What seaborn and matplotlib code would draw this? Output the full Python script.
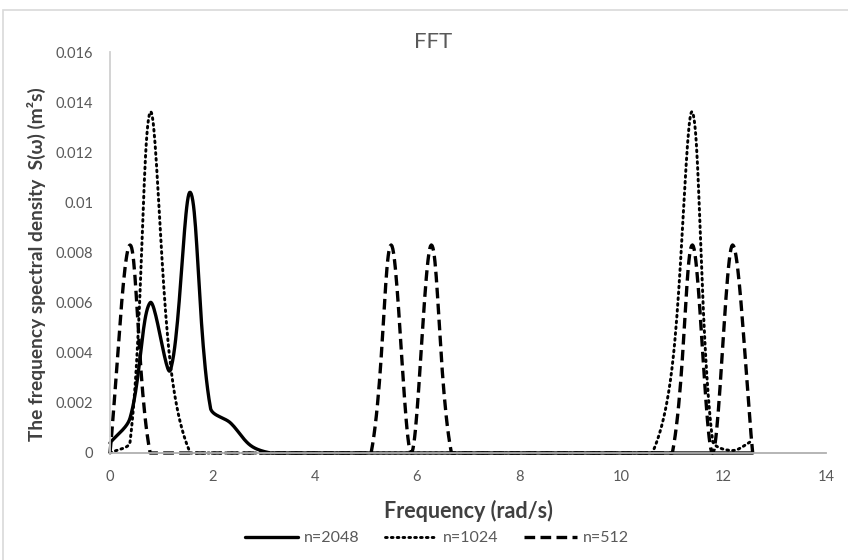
import numpy as np
import pandas as pd
import matplotlib.pyplot as plt
import seaborn as sns
from matplotlib.patches import Rectangle

# Frequency samples (rad/s), step of pi/8 from 0 to 4*pi
freq = np.arange(33) * np.pi / 8

# Spectral density
s_2048 = [0.0004, 0.0014, 0.0060, 0.0033, 0.0104, 0.0018, 0.0012, 0.0003,
          0.0000, 0.0, 0.0, 0.0, 0.0, 0.0, 0.0, 0.0, 0.0, 0.0, 0.0, 0.0,
          0.0, 0.0, 0.0, 0.0, 0.0, 0.0, 0.0, 0.0, 0.0, 0.0, 0.0, 0.0, 0.0]
s_1024 = [0.0000, 0.00045, 0.0136, 0.0036, 0.0, 0.0, 0.0, 0.0, 0.0, 0.0,
          0.0, 0.0, 0.0, 0.0, 0.0, 0.0, 0.0, 0.0, 0.0, 0.0, 0.0, 0.0, 0.0,
          0.0, 0.0, 0.0, 0.0, 0.0, 0.0035, 0.0136, 0.0005, 0.0001, 0.0005]
s_512 = [0.0, 0.0083, 0.0, 0.0, 0.0, 0.0, 0.0, 0.0, 0.0, 0.0, 0.0, 0.0,
         0.0, 0.0, 0.0083, 0.0, 0.0083, 0.0, 0.0, 0.0, 0.0, 0.0, 0.0, 0.0,
         0.0, 0.0, 0.0, 0.0, 0.0, 0.0083, 0.0, 0.0083, 0.0]

series_names = ["n=2048", "n=1024", "n=512"]

# pixels per data unit on the drawn axes (used only for the smoothing shape)
PX_X = 716 / 14
PX_Y = 401 / 0.016


def smooth(x, y, steps=24):
    # Excel-style smoothed line: Bezier segments, control arms scaled by chord length
    p = np.column_stack([np.asarray(x, float) * PX_X, np.asarray(y, float) * PX_Y])
    n = len(p)
    ext = np.vstack([p[:1], p, p[-1:]])
    c_in = np.zeros_like(p)
    c_out = np.zeros_like(p)
    for i in range(n):
        prev, cur, nxt = ext[i], ext[i + 1], ext[i + 2]
        d1 = np.hypot(*(cur - prev))
        d2 = np.hypot(*(nxt - cur))
        tot = d1 + d2
        tan = nxt - prev
        if tot == 0:
            c_in[i] = c_out[i] = cur
            continue
        c_in[i] = cur - tan * d1 / (3 * tot)
        c_out[i] = cur + tan * d2 / (3 * tot)
    t = np.linspace(0, 1, steps, endpoint=False)[:, None]
    pts = []
    for i in range(n - 1):
        b = ((1 - t) ** 3 * p[i] + 3 * (1 - t) ** 2 * t * c_out[i]
             + 3 * (1 - t) * t ** 2 * c_in[i + 1] + t ** 3 * p[i + 1])
        pts.append(b)
    pts.append(p[-1:])
    pts = np.vstack(pts)
    return pts[:, 0] / PX_X, np.clip(pts[:, 1] / PX_Y, 0, None)


# ----------- STYLE SETTINGS -------------
sns.set_style("white")
plt.rcParams["font.family"] = ["Lato", "DejaVu Sans"]
text_grey = "#404040"
tick_grey = "#595959"

fig = plt.figure(figsize=(8.48, 5.6), dpi=100)
ax = fig.add_axes([110 / 848, 1 - 453 / 560, 716 / 848, 401 / 560])

styles = [
    dict(linestyle="-", linewidth=2.4),
    dict(linestyle=(0, (0.6, 1.4)), linewidth=2.1, dash_capstyle="round"),
    dict(linestyle=(0, (3.2, 1.6)), linewidth=2.4),
]

for name, vals, st in zip(series_names, [s_2048, s_1024, s_512], styles):
    xs, ys = smooth(freq, vals)
    df = pd.DataFrame({"freq": xs, "S": ys})
    sns.lineplot(data=df, x="freq", y="S", ax=ax, color="black", sort=False,
                 estimator=None, label=name, clip_on=False, **st)

ax.set_xlim(0, 14)
ax.set_ylim(0, 0.016)
ax.set_xticks(np.arange(0, 15, 2))
ax.set_yticks(np.arange(0, 0.0161, 0.002))
ax.set_yticklabels(["0", "0.002", "0.004", "0.006", "0.008", "0.01",
                    "0.012", "0.014", "0.016"])
ax.tick_params(axis="both", length=0, labelsize=10.5, colors=tick_grey, pad=12)

for side in ["top", "right"]:
    ax.spines[side].set_visible(False)
ax.spines["left"].set_color("#D0D0D0")
ax.spines["bottom"].set_color("#B0B0B0")
for side in ["left", "bottom"]:
    ax.spines[side].set_linewidth(1.3)

ax.set_xlabel("")
ax.set_ylabel("")
fig.text(468 / 848, 1 - 511 / 560, "Frequency (rad/s)", ha="center", va="center",
         fontsize=15.5, fontweight="bold", color=text_grey)
fig.text(36 / 848, 1 - 264 / 560, "The frequency spectral density  S(\u03c9) (m\u00b2s)",
         ha="center", va="center", rotation=90, fontsize=13.8, fontweight="bold",
         color=text_grey)
fig.text(433 / 848, 1 - 42 / 560, "FFT", ha="center", va="center",
         fontsize=16, color=tick_grey)

handles, labels = ax.get_legend_handles_labels()
ax.get_legend().remove()
fig.legend(handles, labels, loc="center", bbox_to_anchor=(437 / 848, 1 - 538 / 560),
           ncol=3, frameon=False, fontsize=11.5, handlelength=3.3,
           handletextpad=0.35, columnspacing=1.6, labelcolor=tick_grey)

# Chart area border
fig.patches.append(Rectangle((2.5 / 848, -0.1), 1.2, 1 - 9.5 / 560 + 0.1,
                             transform=fig.transFigure, fill=False,
                             edgecolor="#D9D9D9", linewidth=1.2))

plt.savefig("out.png", dpi=100, facecolor="white")
